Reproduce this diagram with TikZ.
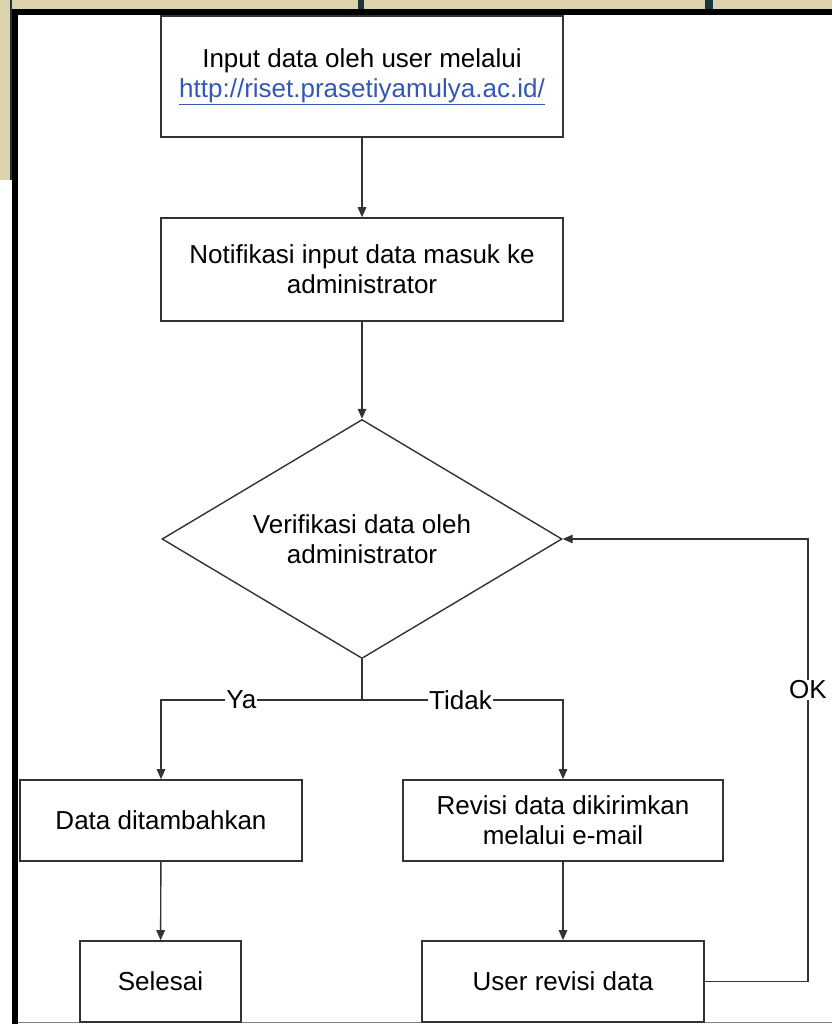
\documentclass[tikz,border=0pt]{standalone}
\usepackage{fontspec}
\setmainfont{Liberation Sans}
\usetikzlibrary{shapes.geometric,arrows.meta}
\definecolor{linegray}{HTML}{333333}
\definecolor{urlblue}{HTML}{3558B5}
\definecolor{paper}{HTML}{DCD3AC}
\definecolor{darkteal}{HTML}{1B3440}

\begin{document}
\begin{tikzpicture}[x=1pt, y=-1pt,
        >={Triangle[length=10pt,width=8.5pt]},
        font=\fontsize{26}{30}\selectfont,
        stepbox/.style={draw=linegray, line width=1.6pt, fill=white, align=center, inner sep=0pt},
        flow/.style={draw=linegray, line width=1.4pt},
        lbl/.style={fill=white, inner sep=1pt}]
        % frame round the chart
        \useasboundingbox (0,0) rectangle (832,1024);
        \fill[paper] (0,0) rectangle (832,9);
        \fill[paper] (0,0) rectangle (10,180);
        \fill[darkteal] (10,0) rectangle (12,180);
        \fill[darkteal] (358,0) rectangle (364,9);
        \fill[darkteal] (705,0) rectangle (713,9);
        \fill[black] (12,9) rectangle (832,15);
        \fill[black] (12,9) rectangle (18,1024);
        \draw[gray, line width=1.5pt] (18,1022.5) -- (832,1022.5);
        % chart
        \node (input) [stepbox, minimum width=402pt, minimum height=121pt]
        at (362,76.5) {Input data oleh user melalui\\
            \textcolor{urlblue}{\underline{http://riset.prasetiyamulya.ac.id/}}};
        \node (notify) [stepbox, minimum width=402pt, minimum height=103pt]
        at (362,269.5) {Notifikasi input data masuk ke\\administrator};
        \node (verify) [diamond, stepbox, line width=1.4pt, shape aspect=1.67,
            minimum width=400pt, minimum height=239pt]
        at (362,539) {Verifikasi data oleh\\administrator};
        \node (added) [stepbox, minimum width=282pt, minimum height=81pt]
        at (161,820.5) {Data ditambahkan};
        \node (revise) [stepbox, minimum width=320pt, minimum height=81pt]
        at (563,820.5) {Revisi data dikirimkan\\melalui e-mail};
        \node (done) [stepbox, minimum width=161pt, minimum height=81pt]
        at (160.5,981.5) {Selesai};
        \node (userrev) [stepbox, minimum width=282pt, minimum height=81pt]
        at (563,981.5) {User revisi data};
        \coordinate (split) at (362,700);
        \coordinate (okturn) at (808,760);
        \path(input) edge[flow, ->] (notify);
        \path(notify) edge[flow, ->] (verify);
        \path(added) edge[flow, ->] (done);
        \path(revise) edge[flow, ->] (userrev);
        \draw[flow] (verify.south) -- (split);
        \draw[flow, ->] (split) -| node[lbl, pos=0.30] {Ya} (added.north);
        \draw[flow, ->] (split) -| node[lbl, pos=0.245] {Tidak} (revise.north);
        \draw[flow, ->] (userrev.east) -| (okturn) |- (verify.east);
        \node (ok) [lbl] at (808,690) {OK};
    \end{tikzpicture}
\end{document}
